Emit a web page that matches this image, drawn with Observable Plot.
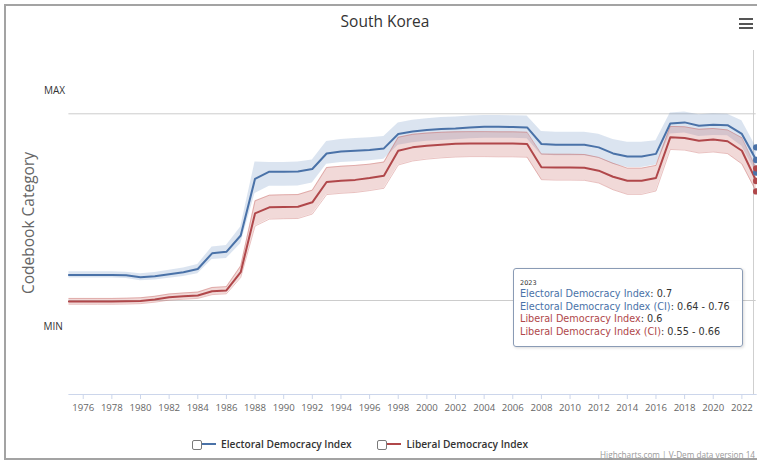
<!DOCTYPE html>
<html>
<head>
<meta charset="utf-8">
<script src="https://cdn.jsdelivr.net/npm/d3@7"></script>
<script src="https://cdn.jsdelivr.net/npm/@observablehq/plot@0.6"></script>
<style>
html, body { margin: 0; padding: 0; background: #fff; overflow: hidden; width: 757px; height: 461px; }
#wrap { position: relative; width: 757px; height: 461px; overflow: hidden; font-family: "Open Sans", sans-serif; }
#frame { position: absolute; left: 4px; top: 4px; width: 800px; height: 456px; border: 2px solid #a3a3a3; box-sizing: border-box; }
#title { position: absolute; left: 0; width: 770px; top: 11px; text-align: center; font-size: 15.5px; line-height: 20px; color: #333; }
.burger { position: absolute; left: 739px; width: 14px; height: 2px; background: #555; }
#vline { position: absolute; left: 753px; top: 50px; width: 1px; height: 344px; background: #cfcfcf; }
#ytitle { position: absolute; left: 27.5px; top: 222.5px; transform: translate(-50%, -50%) rotate(-90deg); white-space: nowrap; font-size: 15.5px; color: #666; }
#chart { position: absolute; left: 0; top: 0; width: 800px; height: 420px; }
#chart svg { max-width: none !important; width: 800px !important; height: 420px !important; }
.leg { position: absolute; top: 438px; font-size: 10.2px; line-height: 12px; font-weight: 600; color: #333; white-space: nowrap; }
.box { position: absolute; top: 439.5px; width: 8px; height: 8px; border: 1px solid #7a7a7a; border-radius: 2px; background: #fff; }
.sym { position: absolute; top: 443px; width: 14px; height: 2px; }
#credit { position: absolute; right: 2px; top: 450px; font-size: 8.2px; line-height: 10px; color: #999; white-space: nowrap; }
#tip { position: absolute; left: 513px; top: 268px; width: 230px; height: 79px; box-sizing: border-box; border: 1px solid #8a9bb5; border-radius: 3px; background: rgba(255,255,255,0.96); box-shadow: 1px 1px 3px rgba(0,0,0,0.15); padding: 10px 0 0 6px; color: #333; font-family: "DejaVu Sans", sans-serif; }
#tip .hd { font-size: 6.5px; line-height: 9px; }
#tip .ln { font-size: 9.7px; line-height: 12.6px; white-space: nowrap; }
svg [aria-label="x-axis tick"] { stroke: #ccd6eb; }
svg [aria-label="x-axis tick label"] { fill: #666; }
</style>
</head>
<body>
<div id="wrap">
  <div id="frame"></div>
  <div id="title"></div>
  <div class="burger" style="top:18px"></div>
  <div class="burger" style="top:22.5px"></div>
  <div class="burger" style="top:27px"></div>
  <div id="vline"></div>
  <div id="ytitle"></div>
  <div id="chart"></div>
  <div id="legend"></div>
  <div id="credit"></div>
  <div id="tip"></div>
</div>
<script>
// ---- data ----
const chartTitle = "South Korea";
const yAxisTitle = "Codebook Category";
const creditText = "Highcharts.com | V-Dem data version 14";
const seriesNames = ["Electoral Democracy Index", "Liberal Democracy Index"];
const seriesColors = ["#4a72a8", "#b0474a"];

const years = [1975,1976,1977,1978,1979,1980,1981,1982,1983,1984,
  1985,1986,1987,1988,1989,1990,1991,1992,1993,1994,
  1995,1996,1997,1998,1999,2000,2001,2002,2003,2004,
  2005,2006,2007,2008,2009,2010,2011,2012,2013,2014,
  2015,2016,2017,2018,2019,2020,2021,2022,2023];

const edi = [0.152,0.152,0.152,0.152,0.150,0.141,0.146,0.155,0.165,0.180,
  0.255,0.262,0.340,0.610,0.644,0.644,0.645,0.657,0.731,0.740,
  0.744,0.748,0.755,0.824,0.836,0.843,0.847,0.850,0.855,0.858,
  0.858,0.857,0.855,0.776,0.772,0.772,0.772,0.760,0.731,0.716,
  0.716,0.729,0.874,0.879,0.863,0.868,0.866,0.824,0.700];
const ediLow = [0.137,0.137,0.137,0.137,0.135,0.124,0.128,0.136,0.145,0.158,
  0.225,0.230,0.300,0.540,0.575,0.575,0.576,0.590,0.680,0.688,
  0.692,0.696,0.703,0.770,0.782,0.789,0.793,0.796,0.801,0.804,
  0.804,0.803,0.801,0.724,0.720,0.720,0.720,0.708,0.680,0.664,
  0.664,0.676,0.824,0.828,0.812,0.817,0.815,0.765,0.640];
const ediHigh = [0.167,0.167,0.167,0.167,0.165,0.158,0.164,0.174,0.185,0.202,
  0.285,0.292,0.380,0.690,0.688,0.688,0.690,0.700,0.788,0.798,
  0.802,0.806,0.812,0.876,0.889,0.897,0.902,0.905,0.910,0.912,
  0.912,0.911,0.910,0.836,0.832,0.832,0.832,0.822,0.798,0.784,
  0.784,0.792,0.924,0.928,0.915,0.920,0.918,0.887,0.760];

const ldi = [0.025,0.025,0.025,0.025,0.026,0.028,0.035,0.046,0.050,0.054,
  0.074,0.078,0.165,0.445,0.474,0.476,0.477,0.498,0.595,0.601,
  0.605,0.614,0.625,0.744,0.760,0.768,0.773,0.777,0.779,0.779,
  0.778,0.778,0.776,0.665,0.664,0.664,0.663,0.649,0.620,0.601,
  0.601,0.614,0.808,0.805,0.792,0.797,0.789,0.744,0.600];
const ldiLow = [0.012,0.012,0.012,0.012,0.013,0.015,0.022,0.032,0.036,0.040,
  0.058,0.062,0.140,0.385,0.418,0.420,0.421,0.442,0.535,0.541,
  0.545,0.554,0.565,0.676,0.695,0.704,0.710,0.714,0.716,0.716,
  0.715,0.715,0.713,0.606,0.604,0.604,0.603,0.590,0.558,0.536,
  0.536,0.552,0.750,0.747,0.733,0.738,0.730,0.681,0.550];
const ldiHigh = [0.040,0.040,0.040,0.040,0.041,0.043,0.050,0.061,0.066,0.070,
  0.092,0.096,0.195,0.505,0.532,0.534,0.535,0.556,0.664,0.670,
  0.674,0.680,0.690,0.808,0.822,0.828,0.832,0.834,0.835,0.835,
  0.834,0.834,0.832,0.728,0.727,0.727,0.726,0.712,0.684,0.661,
  0.661,0.674,0.860,0.858,0.846,0.850,0.843,0.806,0.660];

const tickYears = [1976,1978,1980,1982,1984,1986,1988,1990,1992,1994,1996,1998,
  2000,2002,2004,2006,2008,2010,2012,2014,2016,2018,2020,2022];
const refLabels = ["MIN", "MAX"];
const refValues = [0.03, 0.92];

// tooltip content (hovered year)
const tipYear = "2023";
const tipRows = [
  {name: "Electoral Democracy Index", value: "0.7", s: 0},
  {name: "Electoral Democracy Index (CI)", value: "0.64 - 0.76", s: 0},
  {name: "Liberal Democracy Index", value: "0.6", s: 1},
  {name: "Liberal Democracy Index (CI)", value: "0.55 - 0.66", s: 1}
];

// ---- build tables ----
const rows = years.map((year, i) => ({year, edi: edi[i], ediLow: ediLow[i], ediHigh: ediHigh[i],
  ldi: ldi[i], ldiLow: ldiLow[i], ldiHigh: ldiHigh[i]}));
const refs = refLabels.map((label, i) => ({label, value: refValues[i]}));
const last = rows[rows.length - 1];
const hover = [
  {year: last.year, v: last.ediHigh, c: seriesColors[0]},
  {year: last.year, v: last.ediLow, c: seriesColors[0]},
  {year: last.year, v: last.ldiHigh, c: seriesColors[1]},
  {year: last.year, v: last.ldiLow, c: seriesColors[1]},
  {year: last.year, v: last.edi, c: seriesColors[0]},
  {year: last.year, v: last.ldi, c: seriesColors[1]}
];

const chart = Plot.plot({
  width: 800,
  height: 420,
  marginLeft: 68.4,
  marginRight: 44.3,
  marginTop: 0,
  marginBottom: 26,
  style: {fontFamily: "Open Sans, sans-serif", fontSize: "9.6px", background: "transparent", overflow: "visible", maxWidth: "none"},
  x: {domain: [1975, 2023], range: [68.4, 755.7], label: null},
  y: {domain: [0.03, 0.92], range: [300, 113.3], axis: null},
  marks: [
    Plot.ruleY(refs, {y: "value", stroke: "#cccccc", strokeWidth: 1}),
    Plot.text(refs.filter(d => d.label === "MAX"), {y: "value", text: "label", frameAnchor: "left", textAnchor: "start", dx: -25, dy: -22.6, fontSize: 10, fill: "#333"}),
    Plot.text(refs.filter(d => d.label === "MIN"), {y: "value", text: "label", frameAnchor: "left", textAnchor: "start", dx: -25.5, dy: 26.7, fontSize: 10, fill: "#333"}),
    Plot.frame({anchor: "bottom", stroke: "#ccd6eb"}),
    Plot.axisX({ticks: tickYears, tickFormat: d => String(d), tickSize: 5, tickPadding: 4.5, stroke: "#ccd6eb", fill: "#666", fontSize: 9.6, label: null}),
    Plot.areaY(rows, {x: "year", y1: "ediLow", y2: "ediHigh", fill: "#4a78b5", fillOpacity: 0.2}),
    Plot.areaY(rows, {x: "year", y1: "ldiLow", y2: "ldiHigh", fill: "#c0504d", fillOpacity: 0.22}),
    Plot.lineY(rows, {x: "year", y: "ldiLow", stroke: "#c0504d", strokeOpacity: 0.35, strokeWidth: 1}),
    Plot.lineY(rows, {x: "year", y: "ldiHigh", stroke: "#c0504d", strokeOpacity: 0.35, strokeWidth: 1}),
    Plot.lineY(rows, {x: "year", y: "edi", stroke: seriesColors[0], strokeWidth: 2}),
    Plot.lineY(rows, {x: "year", y: "ldi", stroke: seriesColors[1], strokeWidth: 2}),
    Plot.dot(hover, {x: "year", y: "v", fill: "c", r: 3.2, stroke: "none"})
  ]
});
document.getElementById("chart").appendChild(chart);

document.getElementById("title").textContent = chartTitle;
document.getElementById("ytitle").textContent = yAxisTitle;
document.getElementById("credit").textContent = creditText;

// legend
const legendPos = [191.5, 377];
const legend = document.getElementById("legend");
seriesNames.forEach((name, i) => {
  const x = legendPos[i];
  const box = document.createElement("div"); box.className = "box"; box.style.left = x + "px";
  const sym = document.createElement("div"); sym.className = "sym"; sym.style.left = (x + 10) + "px"; sym.style.background = seriesColors[i];
  const txt = document.createElement("div"); txt.className = "leg"; txt.style.left = (x + 29.5) + "px"; txt.textContent = name;
  legend.append(box, sym, txt);
});

// tooltip
const tip = document.getElementById("tip");
const hd = document.createElement("div"); hd.className = "hd"; hd.textContent = tipYear; tip.appendChild(hd);
tipRows.forEach(r => {
  const ln = document.createElement("div"); ln.className = "ln";
  const n = document.createElement("span"); n.style.color = seriesColors[r.s]; n.textContent = r.name;
  const v = document.createElement("span"); v.textContent = ": " + r.value;
  ln.append(n, v); tip.appendChild(ln);
});
</script>
</body>
</html>
